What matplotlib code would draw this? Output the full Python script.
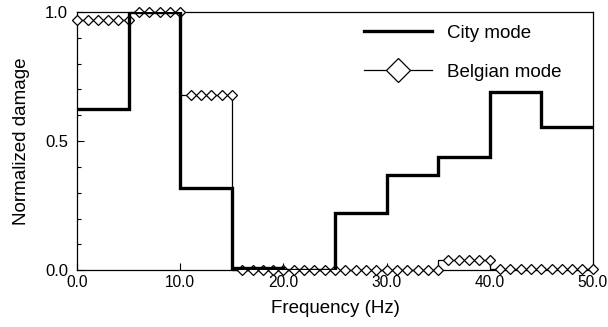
import numpy as np
import matplotlib
matplotlib.use("Agg")
import matplotlib.pyplot as plt
from matplotlib.lines import Line2D
from matplotlib.ticker import MultipleLocator

plt.rcParams['font.family'] = ['Liberation Sans', 'DejaVu Sans']

# City mode: one value per 5 Hz band
city_edges = [0, 5, 10, 15, 20, 25, 30, 35, 40, 45, 50]
city_damage = [0.625, 1.0, 0.32, 0.01, 0.0, 0.22, 0.37, 0.44, 0.69, 0.555]

# Belgian mode: one point per Hz
belgian_freq = list(range(0, 51))
belgian_damage = ([0.97] * 6 + [1.0] * 5 + [0.68] * 5 + [0.0] * 20
                  + [0.04] * 5 + [0.005] * 10)

x_ticks = [0, 10, 20, 30, 40, 50]
x_ticklabels = ["0.0", "10.0", "20.0", "30.0", "40.0", "50.0"]
y_ticks = [0.0, 0.5, 1.0]
y_ticklabels = ["0.0", "0.5", "1.0"]

fig = plt.figure(figsize=(6.08, 3.27), dpi=100)
ax = fig.add_axes([0.127, 0.174, 0.848, 0.789])

# Belgian mode (thin line, diamond markers)
ax.step(belgian_freq, belgian_damage, where='pre', color='black', lw=0.9,
        clip_on=False, zorder=3)
ax.plot(belgian_freq, belgian_damage, ls='none', marker='D', ms=5,
        mfc='white', mec='black', mew=0.9, clip_on=False, zorder=4)

# City mode (thick step line)
ax.stairs(city_damage, city_edges, baseline=None, color='black', lw=2.4,
          zorder=5)

ax.set_xlim(0, 50)
ax.set_ylim(0, 1.0)
ax.set_xticks(x_ticks)
ax.set_xticklabels(x_ticklabels)
ax.set_yticks(y_ticks)
ax.set_yticklabels(y_ticklabels)
ax.yaxis.set_minor_locator(MultipleLocator(0.1))
ax.tick_params(direction='in', length=5, width=0.8)
ax.tick_params(axis='x', pad=3.5, labelsize=11.2)
ax.tick_params(axis='y', pad=6.5, labelsize=12)
ax.tick_params(which='minor', direction='in', length=3, width=0.8)
for s in ax.spines.values():
    s.set_linewidth(0.9)

ax.set_xlabel("Frequency (Hz)", fontsize=13.5, labelpad=7)
ax.set_ylabel("Normalized damage", fontsize=13.5, labelpad=11)

handles = [Line2D([], [], color='black', lw=2.4),
           Line2D([], [], color='black', lw=0.9, marker='D', ms=12,
                  mfc='white', mec='black', mew=0.9)]
ax.legend(handles, ["City mode", "Belgian mode"], loc='upper right',
          bbox_to_anchor=(0.972, 1.016), frameon=False, fontsize=13.5,
          handlelength=3.6, handletextpad=0.8, labelspacing=1.15)

fig.savefig("out.png", dpi=100)
